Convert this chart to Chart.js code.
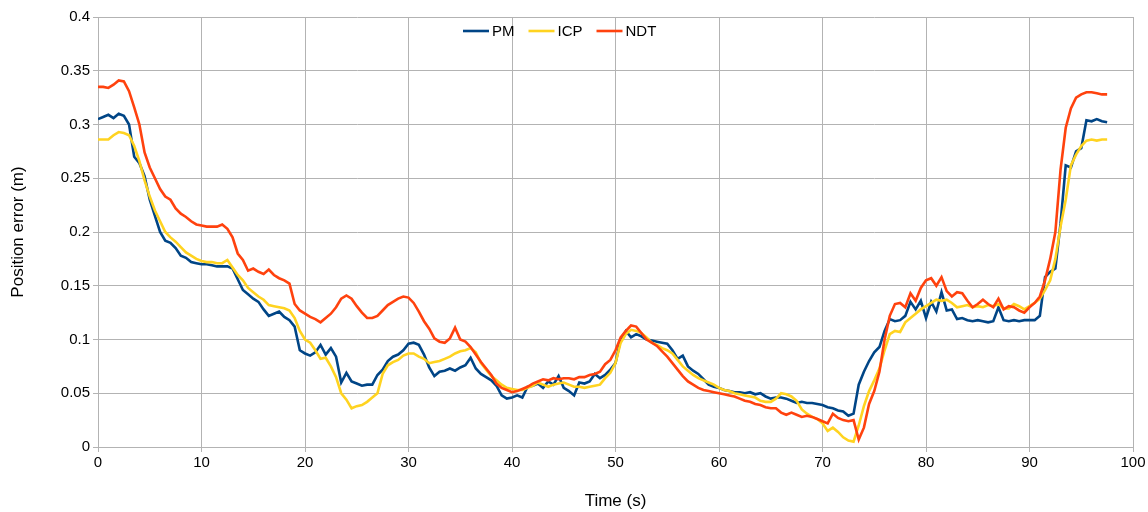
<!DOCTYPE html>
<html>
<head>
<meta charset="utf-8">
<script src="https://cdn.jsdelivr.net/npm/chart.js@4"></script>
<style>
  html, body { margin: 0; padding: 0; background: #fff; }
  #wrap { width: 1148px; height: 512px; }
</style>
</head>
<body>
<div id="wrap"><canvas id="myChart" width="1148" height="512"></canvas></div>
<script>
// Position error, one sample every 0.5 s (0 .. 97.5 s)
const pmError = [
  0.305, 0.307, 0.309, 0.306, 0.310, 0.308, 0.300, 0.270, 0.264, 0.252,
  0.230, 0.215, 0.200, 0.192, 0.190, 0.185, 0.178, 0.176, 0.172, 0.171,
  0.170, 0.170, 0.169, 0.168, 0.168, 0.168, 0.166, 0.156, 0.146, 0.142,
  0.138, 0.135, 0.128, 0.122, 0.124, 0.126, 0.121, 0.118, 0.112, 0.090,
  0.087, 0.085, 0.088, 0.095, 0.086, 0.092, 0.084, 0.060, 0.069, 0.061,
  0.059, 0.057, 0.058, 0.058, 0.067, 0.072, 0.080, 0.084, 0.086, 0.090,
  0.096, 0.097, 0.095, 0.086, 0.074, 0.066, 0.070, 0.071, 0.073, 0.071,
  0.074, 0.076, 0.083, 0.073, 0.068, 0.065, 0.062, 0.057, 0.048, 0.045,
  0.046, 0.048, 0.046, 0.056, 0.057, 0.059, 0.055, 0.061, 0.058, 0.066,
  0.055, 0.052, 0.048, 0.060, 0.059, 0.061, 0.068, 0.064, 0.067, 0.072,
  0.078, 0.100, 0.108, 0.102, 0.105, 0.103, 0.100, 0.099, 0.098, 0.097,
  0.096, 0.090, 0.082, 0.085, 0.075, 0.071, 0.068, 0.063, 0.058, 0.056,
  0.055, 0.053, 0.052, 0.051, 0.051, 0.050, 0.051, 0.049, 0.050, 0.047,
  0.045, 0.046, 0.046, 0.045, 0.043, 0.041, 0.042, 0.041, 0.041, 0.040,
  0.039, 0.037, 0.036, 0.034, 0.033, 0.029, 0.031, 0.058, 0.070, 0.080,
  0.088, 0.093, 0.108, 0.119, 0.117, 0.118, 0.122, 0.135, 0.128, 0.136,
  0.120, 0.135, 0.126, 0.144, 0.127, 0.128, 0.119, 0.120, 0.118, 0.117,
  0.118, 0.117, 0.116, 0.117, 0.130, 0.118, 0.117, 0.118, 0.117, 0.118,
  0.118, 0.118, 0.122, 0.158, 0.163, 0.166, 0.208, 0.262, 0.260, 0.275,
  0.278, 0.304, 0.303, 0.305, 0.303, 0.302
];

const icpError = [
  0.286, 0.286, 0.286, 0.290, 0.293, 0.292, 0.290, 0.280, 0.266, 0.248,
  0.233, 0.220, 0.210, 0.200, 0.195, 0.191, 0.186, 0.181, 0.178, 0.175,
  0.173, 0.172, 0.172, 0.171, 0.171, 0.174, 0.167, 0.160, 0.155, 0.148,
  0.144, 0.140, 0.137, 0.132, 0.131, 0.130, 0.129, 0.127, 0.120, 0.108,
  0.100, 0.097, 0.090, 0.082, 0.083, 0.075, 0.065, 0.050, 0.044, 0.036,
  0.038, 0.039, 0.042, 0.046, 0.050, 0.068, 0.076, 0.079, 0.081, 0.085,
  0.087, 0.087, 0.084, 0.082, 0.078, 0.079, 0.080, 0.082, 0.084, 0.087,
  0.089, 0.090, 0.092, 0.088, 0.078, 0.072, 0.066, 0.062, 0.058, 0.055,
  0.054, 0.053, 0.053, 0.055, 0.057, 0.060, 0.058, 0.056, 0.058, 0.059,
  0.060, 0.058, 0.056, 0.056, 0.055, 0.056, 0.057, 0.058, 0.064, 0.069,
  0.078, 0.097, 0.105, 0.109, 0.108, 0.106, 0.102, 0.097, 0.095, 0.092,
  0.090, 0.087, 0.081, 0.075, 0.071, 0.067, 0.064, 0.062, 0.060, 0.058,
  0.055, 0.053, 0.052, 0.050, 0.049, 0.048, 0.047, 0.046, 0.043, 0.042,
  0.042, 0.045, 0.050, 0.049, 0.047, 0.043, 0.035, 0.031, 0.028, 0.026,
  0.022, 0.015, 0.018, 0.014, 0.009, 0.006, 0.005, 0.020, 0.038, 0.052,
  0.062, 0.073, 0.090, 0.105, 0.108, 0.107, 0.116, 0.120, 0.124, 0.128,
  0.131, 0.134, 0.137, 0.136, 0.137, 0.134, 0.130, 0.131, 0.132, 0.130,
  0.131, 0.130, 0.132, 0.131, 0.133, 0.129, 0.129, 0.133, 0.131, 0.128,
  0.131, 0.134, 0.138, 0.146, 0.155, 0.175, 0.205, 0.230, 0.262, 0.272,
  0.280, 0.285, 0.286, 0.285, 0.286, 0.286
];

const ndtError = [
  0.335, 0.335, 0.334, 0.337, 0.341, 0.340, 0.331, 0.316, 0.300, 0.274,
  0.260, 0.250, 0.240, 0.233, 0.230, 0.222, 0.217, 0.214, 0.210, 0.207,
  0.206, 0.205, 0.205, 0.205, 0.207, 0.203, 0.195, 0.180, 0.174, 0.164,
  0.166, 0.163, 0.161, 0.165, 0.160, 0.157, 0.155, 0.152, 0.133, 0.127,
  0.124, 0.121, 0.119, 0.116, 0.120, 0.124, 0.130, 0.138, 0.141, 0.138,
  0.131, 0.125, 0.120, 0.120, 0.122, 0.127, 0.132, 0.135, 0.138, 0.140,
  0.139, 0.134, 0.126, 0.117, 0.110, 0.101, 0.098, 0.097, 0.101, 0.111,
  0.100, 0.098, 0.093, 0.086, 0.079, 0.073, 0.067, 0.059, 0.055, 0.053,
  0.051, 0.052, 0.054, 0.056, 0.059, 0.061, 0.063, 0.062, 0.064, 0.063,
  0.064, 0.064, 0.063, 0.065, 0.065, 0.067, 0.068, 0.070, 0.077, 0.081,
  0.090, 0.102, 0.108, 0.113, 0.112, 0.106, 0.100, 0.097, 0.094, 0.089,
  0.084, 0.078, 0.072, 0.066, 0.061, 0.058, 0.055, 0.053, 0.052, 0.051,
  0.050, 0.049, 0.048, 0.047, 0.045, 0.043, 0.042, 0.040, 0.039, 0.037,
  0.036, 0.036, 0.032, 0.030, 0.032, 0.030, 0.028, 0.029, 0.028, 0.026,
  0.024, 0.022, 0.031, 0.027, 0.025, 0.024, 0.025, 0.007, 0.018, 0.040,
  0.052, 0.070, 0.100, 0.122, 0.133, 0.134, 0.130, 0.143, 0.136, 0.148,
  0.155, 0.157, 0.150, 0.158, 0.145, 0.140, 0.144, 0.143, 0.136, 0.130,
  0.133, 0.137, 0.133, 0.130, 0.138, 0.128, 0.131, 0.130, 0.127, 0.125,
  0.130, 0.134, 0.140, 0.155, 0.175, 0.200, 0.258, 0.297, 0.315, 0.325,
  0.328, 0.330, 0.330, 0.329, 0.328, 0.328
];

// sample times in seconds
const sampleStep = 0.5;
const timeSec = pmError.map((_, i) => i * sampleStep);

const seriesNames = ['PM', 'ICP', 'NDT'];
const seriesColors = ['#004586', '#ffd320', '#ff420e'];

function toPoints(values) {
    return values.map((v, i) => ({ x: timeSec[i], y: v }));
}

const font = 'Liberation Sans, Arial, sans-serif';
const gridColor = '#b3b3b3';

// legend drawn inside the plot, near the top
const insideLegend = {
    id: 'insideLegend',
    afterDatasetsDraw(chart) {
        const c = chart.ctx;
        let x = 463;
        const y = 31;
        c.save();
        c.font = '15px ' + font;
        c.textBaseline = 'middle';
        chart.data.datasets.forEach(ds => {
            c.strokeStyle = ds.borderColor;
            c.lineWidth = 2.6;
            c.beginPath();
            c.moveTo(x, y);
            c.lineTo(x + 26, y);
            c.stroke();
            x += 29;
            c.fillStyle = '#000';
            c.fillText(ds.label, x, y + 1);
            x += c.measureText(ds.label).width + 14;
        });
        c.restore();
    }
};

const ctx = document.getElementById('myChart').getContext('2d');
new Chart(ctx, {
    type: 'line',
    data: {
        datasets: [pmError, icpError, ndtError].map((vals, k) => ({
            label: seriesNames[k],
            data: toPoints(vals),
            borderColor: seriesColors[k],
            backgroundColor: seriesColors[k],
            borderWidth: 2.6,
            pointRadius: 0,
            tension: 0,
            order: 3 - k  // NDT drawn on top
        }))
    },
    plugins: [insideLegend],
    options: {
        responsive: false,
        animation: false,
        events: [],
        layout: { padding: { top: 17, right: 15, left: 0, bottom: 0 } },
        plugins: {
            tooltip: { enabled: false },
            legend: { display: false }
        },
        scales: {
            x: {
                type: 'linear',
                min: 0,
                max: 100,
                ticks: {
                    stepSize: 10,
                    color: '#000',
                    font: { family: font, size: 15 },
                    maxRotation: 0,
                    padding: 2
                },
                grid: { color: gridColor, tickLength: 5, tickColor: gridColor },
                border: { color: gridColor },
                title: {
                    display: true,
                    text: 'Time (s)',
                    color: '#000',
                    font: { family: font, size: 17 },
                    padding: { top: 4, bottom: 0 }
                },
                afterFit: s => { s.height = 65; }
            },
            y: {
                min: 0,
                max: 0.4,
                ticks: {
                    stepSize: 0.05,
                    color: '#000',
                    font: { family: font, size: 15 },
                    padding: 3,
                    callback: v => String(+v.toFixed(2))
                },
                grid: { color: gridColor, tickLength: 5, tickColor: gridColor },
                border: { color: gridColor },
                title: {
                    display: true,
                    text: 'Position error (m)',
                    color: '#000',
                    font: { family: font, size: 17 },
                    padding: { top: 8, bottom: 4 }
                },
                afterFit: s => { s.width = 98; }
            }
        }
    }
});
</script>
</body>
</html>
